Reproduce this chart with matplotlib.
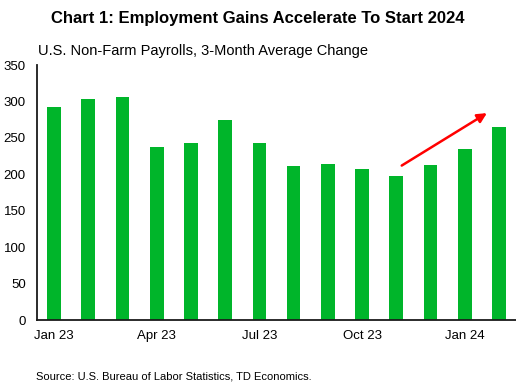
import matplotlib
matplotlib.use('Agg')
import matplotlib.pyplot as plt
import numpy as np

plt.rcParams['font.family'] = ['Liberation Sans', 'DejaVu Sans']

months = ["Jan 23", "Feb 23", "Mar 23", "Apr 23", "May 23", "Jun 23", "Jul 23",
          "Aug 23", "Sep 23", "Oct 23", "Nov 23", "Dec 23", "Jan 24", "Feb 24"]
payrolls = [293, 303, 306, 237, 243, 274, 243, 211, 214, 207, 198, 213, 235, 265]
tick_idx = [0, 3, 6, 9, 12]

fig = plt.figure(figsize=(5.16, 3.85), dpi=100)
ax = fig.add_axes([0.0717, 0.1688, 0.9283, 0.6623])

x = np.arange(len(months))
ax.bar(x, payrolls, width=0.4, color='#00B52A')

ax.set_xlim(-0.5, 13.5)
ax.set_ylim(0, 350)
ax.set_yticks(range(0, 351, 50))
ax.set_xticks(tick_idx)
ax.set_xticklabels([months[i] for i in tick_idx])
ax.tick_params(axis='both', length=0, labelsize=9.5, colors='black')
ax.tick_params(axis='x', pad=7)
ax.tick_params(axis='y', pad=8)

for s in ['top', 'right']:
    ax.spines[s].set_visible(False)
for s in ['left', 'bottom']:
    ax.spines[s].set_color('#1a1a1a')
    ax.spines[s].set_linewidth(1.3)

# trend arrow
ax.annotate('', xy=(12.65, 284), xytext=(10.16, 212),
            arrowprops=dict(arrowstyle='-|>', color='red', lw=1.8,
                            mutation_scale=14, shrinkA=0, shrinkB=0))

fig.text(0.5, 0.952, "Chart 1: Employment Gains Accelerate To Start 2024",
         ha='center', va='center', fontsize=12, fontweight='bold')
fig.text(0.074, 0.868, "U.S. Non-Farm Payrolls, 3-Month Average Change",
         ha='left', va='center', fontsize=10.5)
fig.text(0.07, 0.022, "Source: U.S. Bureau of Labor Statistics, TD Economics.",
         ha='left', va='center', fontsize=8)

fig.savefig("out.png", dpi=100)
